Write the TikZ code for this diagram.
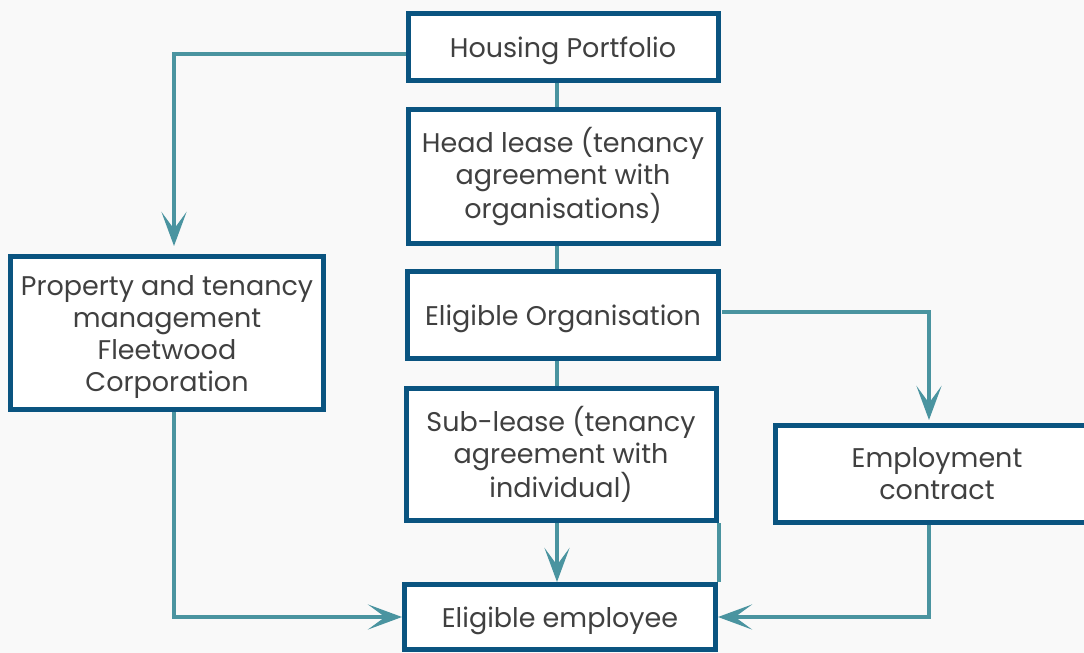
\documentclass[tikz,border=0pt]{standalone}
\usepackage{fontspec}
\setmainfont{Poppins}
\usetikzlibrary{arrows.meta}
\definecolor{boxblue}{RGB}{10,84,128}
\definecolor{linkteal}{RGB}{74,148,160}
\definecolor{txtgray}{RGB}{64,64,64}
\definecolor{paper}{RGB}{249,249,249}
\begin{document}
\begin{tikzpicture}[x=1pt,y=-1pt,
  box/.style={draw=boxblue,line width=5pt,fill=white,text=txtgray,align=center,
    font=\fontsize{27}{32}\selectfont,inner sep=0pt,
    execute at begin node={\rule{0pt}{28pt}}},
  link/.style={draw=linkteal,line width=4pt},
  arr/.style={link,-{Stealth[length=34pt,width=25pt,inset=17pt]}}]
\fill[paper] (0,0) rectangle (1084,653);
\useasboundingbox (0,0) rectangle (1084,653);
\node[box,minimum width=310,minimum height=67] (hp) at (563,47) {Housing Portfolio};
\node[box,minimum width=310,minimum height=134] (hl) at (563,176.5) {Head lease (tenancy\\agreement with\\organisations)};
\node[box,minimum width=311,minimum height=87] (eo) at (563,315) {Eligible Organisation};
\node[box,minimum width=310,minimum height=132] (sl) at (561,454.5) {Sub-lease (tenancy\\agreement with\\individual)};
\node[box,minimum width=311,minimum height=65] (ee) at (560,617) {Eligible employee};
\node[box,minimum width=313,minimum height=153] (pt) at (167,333) {\mbox{}\\[-3pt]Property and tenancy\\management\\Fleetwood\\Corporation};
\node[box,minimum width=323,minimum height=97] (ec) at (937,474) {Employment\\contract};
\draw[link] ([xshift=-6pt]hp.south) -- ([xshift=-6pt]hl.north);
\draw[link] ([xshift=-6pt]hl.south) -- ([xshift=-6pt]eo.north);
\draw[link] ([xshift=-6pt]eo.south) -- ([xshift=-4pt]sl.north);
\draw[arr] ([xshift=-4pt]sl.south) -- ([xshift=-3pt]ee.north);
\draw[link] (sl.south east) -- (sl.south east |- ee.north);
\draw[arr,shorten >=8pt] ([yshift=-7pt]hp.west) -| ([xshift=7pt]pt.north);
\draw[arr,shorten >=3pt] ([yshift=3pt,xshift=1pt]eo.east) -| ([xshift=-8pt]ec.north);
\draw[arr] ([xshift=7pt]pt.south) |- (ee.west);
\draw[arr] ([xshift=-8pt]ec.south) |- (ee.east);
\end{tikzpicture}
\end{document}
